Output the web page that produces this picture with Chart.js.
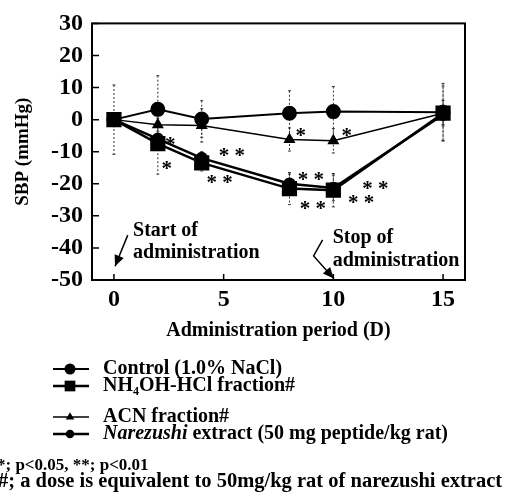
<!DOCTYPE html>
<html>
<head>
<meta charset="utf-8">
<script src="https://cdn.jsdelivr.net/npm/chart.js@4.4.1/dist/chart.umd.min.js"></script>
<style>
  html, body { margin: 0; padding: 0; background: #fff; }
  #wrap { width: 506px; height: 500px; position: relative; }
</style>
</head>
<body>
<div id="wrap"><canvas id="sbpChart" width="506" height="500"></canvas></div>
<script>
// values (SBP change, mmHg)
const days = [0, 2, 4, 8, 10, 15];
const controlMean = [0, 3.2, 0.2, 2, 2.5, 2.3];
const nh4ohMean = [0, -7.5, -13.5, -21.5, -22, 2];
const acnMean = [0, -1.6, -1.8, -6.2, -6.6, 2];
const narezushiMean = [0, -6, -12, -20, -21.3, 1.5];

const controlSD = [10.8, 10.5, 5.7, 7, 7.8, 9];
const nh4ohSD = [0, 9.5, 2.5, 5, 5.2, 4];
const acnSD = [0, 2, 5.2, 3.6, 3.8, 8.5];
const narezushiSD = [0, 0, 2, 3, 4, 3];

const xTicks = [0, 5, 10, 15];
const yTicks = [-50, -40, -30, -20, -10, 0, 10, 20, 30];

// significance marks
const starX = [2.55, 2.4, 5.0, 4.45, 8.5, 10.6, 8.6, 8.7, 11.55, 10.9];
const starY = [-6.5, -14, -10, -18.3, -3.8, -3.8, -17.6, -26.5, -20.4, -24.5];
const starText = ["*", "*", "**", "**", "*", "*", "**", "**", "**", "**"];

const SERIF = '"Liberation Serif", "Times New Roman", serif';

const seriesSD = [controlSD, nh4ohSD, acnSD, narezushiSD];

const refPlugin = {
    id: "refPlugin",
    beforeDatasetsDraw(chart) {
        const ctx = chart.ctx;
        const xs = chart.scales.x, ys = chart.scales.y;
        ctx.save();
        ctx.strokeStyle = "#333";
        ctx.lineWidth = 1;
        chart.data.datasets.forEach((ds, i) => {
            const sd = seriesSD[i];
            ds.data.forEach((p, j) => {
                if (!sd[j]) return;
                const px = xs.getPixelForValue(p.x);
                const top = ys.getPixelForValue(p.y + sd[j]);
                const bot = ys.getPixelForValue(p.y - sd[j]);
                ctx.setLineDash([2, 2]);
                ctx.beginPath();
                ctx.moveTo(px, top);
                ctx.lineTo(px, bot);
                ctx.stroke();
                ctx.setLineDash([]);
                ctx.beginPath();
                ctx.moveTo(px - 1.5, top); ctx.lineTo(px + 1.5, top);
                ctx.moveTo(px - 1.5, bot); ctx.lineTo(px + 1.5, bot);
                ctx.stroke();
            });
        });
        ctx.restore();
    },
    afterDatasetsDraw(chart) {
        const ctx = chart.ctx;
        const a = chart.chartArea;
        const xs = chart.scales.x, ys = chart.scales.y;
        ctx.save();
        // frame
        ctx.strokeStyle = "#000";
        ctx.lineWidth = 2;
        ctx.strokeRect(a.left, a.top, a.right - a.left, a.bottom - a.top);
        // inward ticks
        ctx.lineWidth = 1.5;
        ctx.beginPath();
        yTicks.forEach(v => {
            const py = ys.getPixelForValue(v);
            ctx.moveTo(a.left, py); ctx.lineTo(a.left + 7, py);
        });
        xTicks.forEach(v => {
            const px = xs.getPixelForValue(v);
            ctx.moveTo(px, a.bottom); ctx.lineTo(px, a.bottom - 6);
        });
        ctx.stroke();

        // asterisks
        ctx.fillStyle = "#000";
        ctx.font = "bold 21px " + SERIF;
        ctx.textAlign = "left";
        ctx.textBaseline = "middle";
        starText.forEach((t, i) => {
            const px = xs.getPixelForValue(starX[i]);
            const py = ys.getPixelForValue(starY[i]);
            ctx.fillText(t.split("").join(" "), px - 5, py + 5);
        });

        // start / stop notes
        ctx.font = "bold 20px " + SERIF;
        ctx.textBaseline = "middle";
        ctx.fillText("Start of", xs.getPixelForValue(0.87), ys.getPixelForValue(-34.8));
        ctx.fillText("administration", xs.getPixelForValue(0.87), ys.getPixelForValue(-41.5));
        ctx.fillText("Stop of", xs.getPixelForValue(9.97), ys.getPixelForValue(-36.9));
        ctx.fillText("administration", xs.getPixelForValue(9.97), ys.getPixelForValue(-44));

        ctx.lineWidth = 1.5;
        drawArrow(ctx, [[xs.getPixelForValue(0.63), ys.getPixelForValue(-36)],
                        [xs.getPixelForValue(0.05), ys.getPixelForValue(-45.7)]]);
        drawArrow(ctx, [[xs.getPixelForValue(9.51), ys.getPixelForValue(-37.5)],
                        [xs.getPixelForValue(9.1), ys.getPixelForValue(-42.5)],
                        [xs.getPixelForValue(10.02), ys.getPixelForValue(-49.5)]]);
        ctx.restore();
    },
    afterDraw(chart) {
        const ctx = chart.ctx;
        ctx.save();
        ctx.fillStyle = "#000";
        ctx.strokeStyle = "#000";
        ctx.textBaseline = "middle";
        ctx.textAlign = "left";
        const rows = [369, 386, 417, 434];
        const styles = chart.data.datasets;
        rows.forEach((ry, i) => {
            const ds = styles[i];
            ctx.lineWidth = ds.borderWidth;
            ctx.beginPath();
            ctx.moveTo(53, ry); ctx.lineTo(89, ry);
            ctx.stroke();
            drawMarker(ctx, ds.pointStyle, 70, ry, ds.pointRadius * 0.85);
        });
        const tx = 103;
        ctx.font = "bold 20px " + SERIF;
        ctx.fillText("Control (1.0% NaCl)", tx, rows[0]);
        let x = tx;
        ctx.fillText("NH", x, rows[1]);
        x += ctx.measureText("NH").width;
        ctx.font = "bold 12px " + SERIF;
        ctx.fillText("4", x, rows[1] + 6);
        x += ctx.measureText("4").width;
        ctx.font = "bold 20px " + SERIF;
        ctx.fillText("OH-HCl fraction#", x, rows[1]);
        ctx.fillText("ACN fraction#", tx, rows[2]);
        ctx.font = "italic bold 20px " + SERIF;
        ctx.fillText("Narezushi", tx, rows[3]);
        x = tx + ctx.measureText("Narezushi").width;
        ctx.font = "bold 20px " + SERIF;
        ctx.fillText(" extract (50 mg peptide/kg rat)", x, rows[3]);

        ctx.font = "bold 17px " + SERIF;
        ctx.fillText("*; p<0.05, **; p<0.01", -3, 466);
        ctx.font = "bold 20.5px " + SERIF;
        ctx.fillText("#; a dose is equivalent to 50mg/kg rat of narezushi extract", -2, 482);
        ctx.restore();
    }
};

function drawArrow(ctx, pts) {
    ctx.beginPath();
    ctx.moveTo(pts[0][0], pts[0][1]);
    for (let i = 1; i < pts.length; i++) ctx.lineTo(pts[i][0], pts[i][1]);
    ctx.stroke();
    const [x1, y1] = pts[pts.length - 2];
    const [x2, y2] = pts[pts.length - 1];
    const ang = Math.atan2(y2 - y1, x2 - x1);
    const len = 12, w = 0.42;
    ctx.beginPath();
    ctx.moveTo(x2, y2);
    ctx.lineTo(x2 - len * Math.cos(ang - w), y2 - len * Math.sin(ang - w));
    ctx.lineTo(x2 - len * Math.cos(ang + w), y2 - len * Math.sin(ang + w));
    ctx.closePath();
    ctx.fill();
}

function drawMarker(ctx, style, x, y, r) {
    ctx.beginPath();
    if (style === "rect") {
        ctx.rect(x - r * 0.7, y - r * 0.7, r * 1.4, r * 1.4);
    } else if (style === "triangle") {
        ctx.moveTo(x, y - r);
        ctx.lineTo(x + r * 0.9, y + r * 0.55);
        ctx.lineTo(x - r * 0.9, y + r * 0.55);
        ctx.closePath();
    } else {
        ctx.arc(x, y, r, 0, Math.PI * 2);
    }
    ctx.fill();
}

function toPoints(vals) {
    return days.map((d, i) => ({ x: d, y: vals[i] }));
}

const ctx = document.getElementById("sbpChart").getContext("2d");
new Chart(ctx, {
    type: "line",
    data: {
        datasets: [
            { label: "Control (1.0% NaCl)", data: toPoints(controlMean), borderColor: "#000", backgroundColor: "#000",
              borderWidth: 2, pointStyle: "circle", pointRadius: 6.5 },
            { label: "NH4OH-HCl fraction#", data: toPoints(nh4ohMean), borderColor: "#000", backgroundColor: "#000",
              borderWidth: 2.5, pointStyle: "rect", pointRadius: 9 },
            { label: "ACN fraction#", data: toPoints(acnMean), borderColor: "#000", backgroundColor: "#000",
              borderWidth: 1.5, pointStyle: "triangle", pointRadius: 5.5 },
            { label: "Narezushi extract (50 mg peptide/kg rat)", data: toPoints(narezushiMean), borderColor: "#000", backgroundColor: "#000",
              borderWidth: 2.5, pointStyle: "circle", pointRadius: 5 }
        ]
    },
    options: {
        responsive: false,
        animation: false,
        layout: { padding: { top: 20, right: 41, bottom: 153, left: 0 } },
        plugins: { legend: { display: false }, tooltip: { enabled: false } },
        scales: {
            x: {
                type: "linear",
                min: -1,
                max: 16,
                afterBuildTicks: s => { s.ticks = xTicks.map(v => ({ value: v })); },
                afterFit: s => { s.height = 67; },
                grid: { display: false, drawTicks: false },
                border: { display: false },
                ticks: { color: "#000", padding: 5, font: { family: SERIF, size: 24, weight: "bold" } },
                title: { display: true, text: "Administration period (D)", color: "#000", padding: 4,
                         font: { family: SERIF, size: 20, weight: "bold" } }
            },
            y: {
                min: -50,
                max: 30,
                afterBuildTicks: s => { s.ticks = yTicks.map(v => ({ value: v })); },
                afterFit: s => { s.width = 92; },
                grid: { display: false, drawTicks: false },
                border: { display: false },
                ticks: { color: "#000", padding: 9, font: { family: SERIF, size: 24, weight: "bold" } },
                title: { display: true, text: "SBP (mmHg)", color: "#000", padding: 12,
                         font: { family: SERIF, size: 19, weight: "bold" } }
            }
        }
    },
    plugins: [refPlugin]
});
</script>
</body>
</html>
